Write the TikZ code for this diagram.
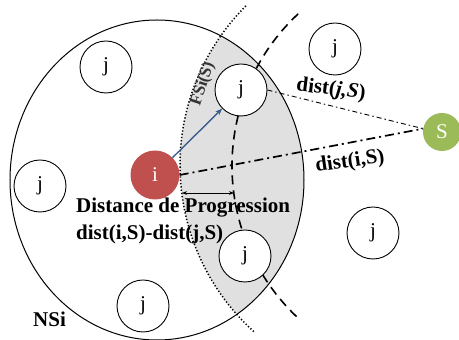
\documentclass[tikz,border=0pt]{standalone}
\usepackage{fontspec}
\setmainfont{Liberation Serif}
\usepackage{xcolor}
\usetikzlibrary{arrows.meta}
\definecolor{nodered}{RGB}{192,80,77}
\definecolor{nodegreen}{RGB}{155,187,89}
\definecolor{arrowblue}{RGB}{59,94,145}
\definecolor{zonegray}{RGB}{224,224,224}

\begin{document}
\begin{tikzpicture}[x=1pt,y=1pt,
    jnode/.style={draw,circle,fill=white,line width=0.9pt,minimum size=52pt,inner sep=0pt,font=\fontsize{21}{23}\selectfont},
    lbl/.style={font=\fontsize{21}{23}\selectfont\bfseries}]
\useasboundingbox (0,0) rectangle (459,340);
% zone grisee
\begin{scope}
\clip (157,160) ellipse (147 and 160);
\fill[zonegray] (405,175) circle (225);
\end{scope}
\draw[line width=1pt] (157,160) ellipse (147 and 160);
\draw[line width=1.5pt,dash pattern=on 1.3pt off 2pt] (405,175) ++(135:225) arc (135:228:225);
\draw[line width=1.6pt,dash pattern=on 9pt off 6pt] (440,174) ++(133:208) arc (133:227:208);
% noeuds
\node[circle,fill=nodered,minimum size=49pt,inner sep=0pt,text=white,font=\fontsize{21}{23}\selectfont] (i) at (155,165) {i};
\node[circle,fill=nodegreen,minimum size=38pt,inner sep=0pt,text=white,font=\fontsize{21}{23}\selectfont] (S) at (442,208) {S};
\foreach \n/\x/\y in {1/106/273,2/335/291,3/241/250,4/40/154,5/245/84,6/143/34,7/373/107}
    \node[jnode] (j\n) at (\x,\y) {j};
% liens
\draw[arrowblue,line width=1.4pt,-{Stealth[length=7pt]}] (i) -- (j3);
\draw[line width=1.7pt,dash pattern=on 9pt off 4pt on 2pt off 4pt] (i.east) -- (S.170);
\draw[line width=0.9pt,dash pattern=on 5pt off 3pt on 1.5pt off 3pt] (j3.east) -- (S.170);
\coordinate (pa) at (182,147);
\coordinate (pb) at (234,147);
\draw[line width=0.8pt,{Stealth[length=5pt]}-{Stealth[length=5pt]}] (pa) -- (pb);
% textes
\node[lbl,anchor=base west,inner sep=0pt] (prog) at (76,127) {Distance de Progression};
\node[lbl,anchor=base west,inner sep=0pt] (diff) at (76,100) {dist(i,S)-dist(j,S)};
\node[lbl,anchor=base west,inner sep=0pt] (nsi) at (33,13) {NSi};
\node[lbl,rotate=-7] (djs) at (331,250) {dist(\textit{j,S})};
\node[lbl,rotate=8] (dis) at (350,178) {dist(i,S)};
\node[lbl,rotate=72,inner sep=1pt,text=black!80,font=\fontsize{17}{19}\selectfont\bfseries] (fsi) at (203,256) {FSi(S)};
\end{tikzpicture}
\end{document}
